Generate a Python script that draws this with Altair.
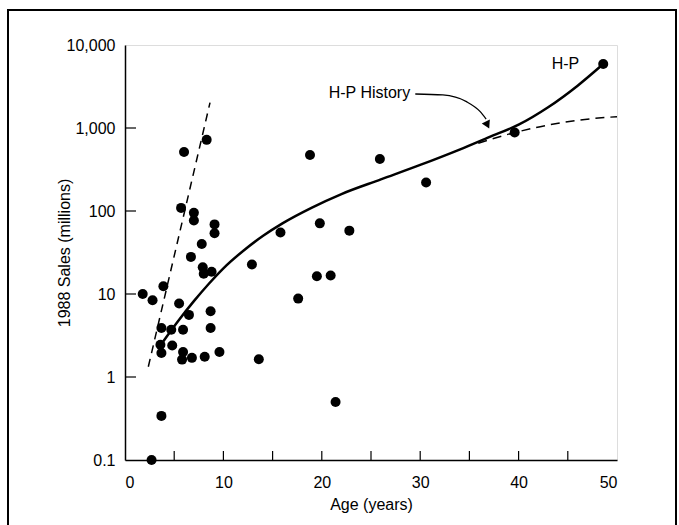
import altair as alt
import pandas as pd

# ---- data ----
pt_age = [6.0, 8.3, 5.7, 7.0, 7.0, 9.1, 9.1, 7.8, 6.7, 7.9, 8.0, 8.8, 12.9,
          1.8, 2.8, 3.9, 5.5, 6.5, 3.7, 4.7, 5.9, 8.7, 8.7, 3.6, 4.8, 3.7,
          5.9, 5.8, 6.8, 8.1, 9.6, 13.6, 3.7, 2.7,
          30.6, 19.8, 15.8, 22.8, 19.5, 20.9, 17.6, 21.4,
          18.8, 25.9, 39.6, 48.6]
pt_sales = [515, 720, 109, 95, 77, 69, 54, 40, 28, 21, 17.5, 18.5, 22.7,
            10, 8.4, 12.4, 7.7, 5.6, 3.9, 3.7, 3.7, 6.2, 3.9, 2.45, 2.4, 1.95,
            2.0, 1.62, 1.7, 1.75, 2.0, 1.64, 0.34, 0.1,
            221, 71, 55, 58, 16.4, 16.7, 8.8, 0.50,
            472, 423, 883, 5900]

hist_age = [3.9, 5.5, 7.0, 8.5, 10, 12, 14, 16, 19, 22, 26, 30, 34, 37, 40, 43, 46, 48.6]
hist_sales = [2.7, 4.9, 8.2, 13.2, 20.4, 33, 50, 71, 110, 160, 240, 359, 550, 776, 1096, 1778, 3236, 5900]

steep_age = [2.37, 8.64]
steep_sales = [1.33, 2020]

proj_age = [35.9, 39.6, 42.2, 46.2, 50.0]
proj_sales = [655, 880, 1037, 1248, 1370]

lead_age = [29.5, 32.3, 34.7, 36.1, 36.7]
lead_sales = [2570, 2500, 2075, 1573, 1282]
head_age = [36.84]
head_sales = [1087]

x_ticks = [5, 10, 15, 20, 25, 30, 35, 40, 45]
y_ticks = [1, 10, 100, 1000]
x_labels = [0, 10, 20, 30, 40, 50]
y_labels = [0.1, 1, 10, 100, 1000, 10000]

W, H = 492, 415
FONT = "Liberation Sans"

xs = alt.Scale(domain=[0, 50], nice=False, zero=False)
ys = alt.Scale(type="log", domain=[0.1, 10000], nice=False)

xaxis = alt.Axis(values=x_labels, ticks=False, grid=False, labelPadding=14,
                 labelFontSize=16, titleFontSize=16, titleFontWeight="normal",
                 titlePadding=6, domainColor="black", domainWidth=1.5,
                 labelColor="black", titleColor="black", labelFont=FONT, titleFont=FONT)
yaxis = alt.Axis(values=y_labels, ticks=False, grid=False, labelPadding=10,
                 format=",~g", labelFontSize=16, titleFontSize=16,
                 titleFontWeight="normal", titleX=-61, titleY=H / 2,
                 titleAngle=270, titleBaseline="middle", titleAlign="center",
                 domainColor="black", domainWidth=1.5, labelColor="black",
                 titleColor="black", labelFont=FONT, titleFont=FONT,
                 labelOverlap=False)

X = alt.X("x:Q", scale=xs, axis=xaxis, title="Age (years)")
Y = alt.Y("y:Q", scale=ys, axis=yaxis, title="1988 Sales (millions)")

pts = pd.DataFrame({"x": pt_age, "y": pt_sales})
hist = pd.DataFrame({"x": hist_age, "y": hist_sales})
steep = pd.DataFrame({"x": steep_age, "y": steep_sales})
proj = pd.DataFrame({"x": proj_age, "y": proj_sales})
lead = pd.DataFrame({"x": lead_age, "y": lead_sales})
head = pd.DataFrame({"x": head_age, "y": head_sales})
xt = pd.DataFrame({"x": x_ticks})
yt = pd.DataFrame({"y": y_ticks})
labels = pd.DataFrame({"x": [48.6, 20.7], "y": [5900, 2640],
                       "t": ["H-P", "H-P History"]})

points = alt.Chart(pts).mark_circle(size=100, color="black", opacity=1).encode(x=X, y=Y)
curve = alt.Chart(hist).mark_line(color="black", strokeWidth=2.5, interpolate="monotone").encode(x=X, y=Y)
dash1 = alt.Chart(steep).mark_line(color="black", strokeWidth=1.5, strokeDash=[8, 6]).encode(x=X, y=Y)
dash2 = alt.Chart(proj).mark_line(color="black", strokeWidth=1.5, strokeDash=[9, 6], interpolate="monotone").encode(x=X, y=Y)
leader = alt.Chart(lead).mark_line(color="black", strokeWidth=1.3, interpolate="monotone").encode(x=X, y=Y)
arrow = alt.Chart(head).mark_point(shape="triangle-down", filled=True, color="black",
                                   size=80, angle=334, opacity=1).encode(x=X, y=Y)
xtick = alt.Chart(xt).mark_rule(color="black", strokeWidth=1.2).encode(
    x=X, y=alt.value(H), y2=alt.value(H - 9))
ytick = alt.Chart(yt).mark_rule(color="black", strokeWidth=1.2).encode(
    y=Y, x=alt.value(0), x2=alt.value(11))
t_hp = alt.Chart(labels.iloc[[0]]).mark_text(align="right", baseline="middle", dx=-24,
                                             fontSize=16, font=FONT, color="black").encode(x=X, y=Y, text="t:N")
t_hist = alt.Chart(labels.iloc[[1]]).mark_text(align="left", baseline="middle",
                                               fontSize=16, font=FONT, color="black").encode(x=X, y=Y, text="t:N")
frame = alt.Chart(pd.DataFrame({"f": [0]})).mark_rect(
    fill=None, stroke="black", strokeWidth=2).encode(
    x=alt.value(-117), x2=alt.value(551), y=alt.value(-35), y2=alt.value(H + 80))

chart = alt.layer(frame, xtick, ytick, dash1, dash2, curve, leader, arrow, points, t_hp, t_hist).properties(
    width=W, height=H,
    autosize=alt.AutoSizeParams(type="none"),
    padding={"left": 125, "top": 45, "right": 62, "bottom": 65},
    background="white",
).configure_view(stroke="black", strokeWidth=1.5).configure(font=FONT)

chart.save("out.html", embed_options={"renderer": "svg", "actions": False})
